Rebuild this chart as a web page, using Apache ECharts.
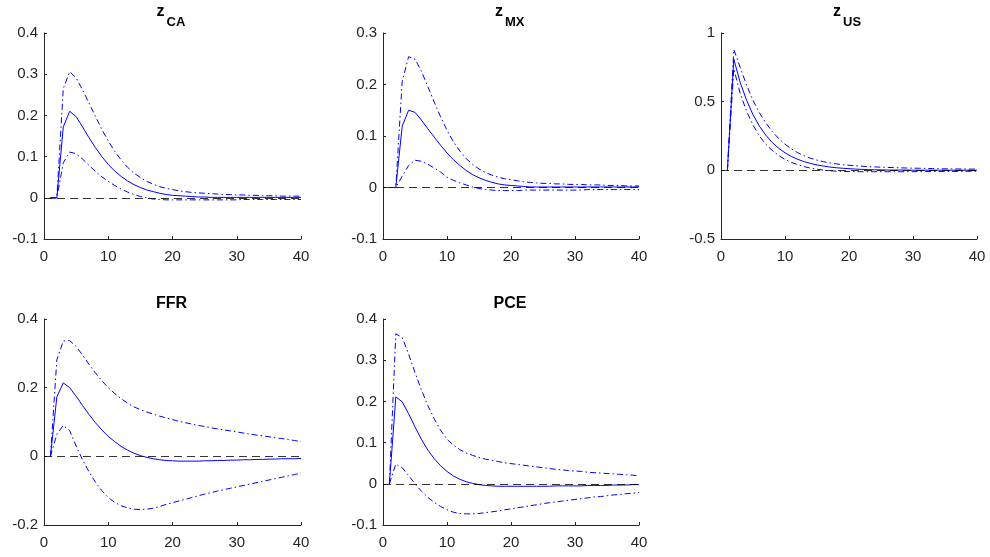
<!DOCTYPE html>
<html lang="en">
<head>
    <meta charset="UTF-8">
    <title>IRF</title>
    <style>
        * { margin: 0; padding: 0; }
        html, body { width: 100%; height: 100%; background: #fff; }
        #charts { width: 990px; height: 557px; }
    </style>
    <script src="https://cdn.jsdelivr.net/npm/echarts@6/dist/echarts.min.js"></script>
</head>
<body>
<div id="charts"></div>
<script>
    // horizon
    var horizon = [1,2,3,4,5,6,7,8,9,10,11,12,13,14,15,16,17,18,19,20,
        21,22,23,24,25,26,27,28,29,30,31,32,33,34,35,36,37,38,39,40];

    // z_CA
    var caMed = [0,0,0.172,0.210,0.197,0.172,0.146,0.122,0.100,0.081,0.065,0.052,0.041,0.032,0.025,0.019,0.015,0.011,0.008,0.006,
        0.005,0.004,0.003,0.002,0.002,0.001,0.001,0.001,0.001,0.001,0.001,0.001,0.001,0.001,0.001,0.001,0.001,0.001,0.001,0.001];
    var caUp = [0,0,0.265,0.306,0.291,0.262,0.230,0.198,0.166,0.138,0.113,0.092,0.074,0.060,0.049,0.040,0.033,0.027,0.023,0.020,
        0.017,0.015,0.013,0.012,0.011,0.010,0.009,0.008,0.008,0.007,0.007,0.006,0.006,0.005,0.005,0.005,0.004,0.004,0.004,0.004];
    var caLo = [0,0,0.085,0.111,0.107,0.094,0.079,0.064,0.051,0.040,0.030,0.021,0.014,0.008,0.003,0.000,-0.003,-0.004,-0.005,-0.005,
        -0.005,-0.005,-0.005,-0.005,-0.005,-0.005,-0.005,-0.005,-0.005,-0.005,-0.004,-0.004,-0.004,-0.004,-0.004,-0.004,-0.004,-0.004,-0.004,-0.004];

    // z_MX
    var mxMed = [0,0,0.119,0.150,0.146,0.131,0.114,0.098,0.082,0.067,0.054,0.043,0.033,0.025,0.019,0.014,0.010,0.007,0.005,0.004,
        0.003,0.002,0.001,0.001,0.001,0.001,0.001,0.001,0.001,0.001,0.001,0.001,0.001,0.001,0.001,0.001,0.001,0.001,0.001,0.001];
    var mxUp = [0,0,0.206,0.254,0.249,0.226,0.196,0.166,0.137,0.111,0.089,0.071,0.056,0.045,0.036,0.029,0.024,0.020,0.017,0.015,
        0.013,0.011,0.010,0.009,0.008,0.008,0.007,0.007,0.006,0.006,0.006,0.005,0.005,0.005,0.004,0.004,0.004,0.003,0.003,0.003];
    var mxLo = [0,0,0.022,0.043,0.053,0.051,0.045,0.038,0.030,0.020,0.014,0.009,0.005,0.001,-0.002,-0.004,-0.005,-0.006,-0.006,-0.006,
        -0.006,-0.005,-0.005,-0.005,-0.005,-0.005,-0.005,-0.005,-0.005,-0.005,-0.005,-0.004,-0.004,-0.004,-0.004,-0.004,-0.004,-0.004,-0.004,-0.004];

    // z_US
    var usMed = [0,0.81,0.64,0.51,0.405,0.322,0.256,0.203,0.161,0.128,0.101,0.080,0.063,0.050,0.039,0.031,0.024,0.019,0.015,0.012,
        0.009,0.007,0.005,0.004,0.003,0.002,0.002,0.002,0.002,0.001,0.001,0.001,0.001,0.001,0.001,0.001,0.001,0.001,0.001,0.001];
    var usUp = [0,0.88,0.75,0.62,0.51,0.42,0.345,0.283,0.232,0.190,0.156,0.128,0.106,0.088,0.074,0.063,0.054,0.047,0.041,0.037,
        0.033,0.030,0.027,0.025,0.023,0.021,0.020,0.018,0.017,0.016,0.015,0.014,0.013,0.012,0.011,0.011,0.010,0.010,0.009,0.009];
    var usLo = [0,0.74,0.56,0.43,0.33,0.25,0.19,0.145,0.108,0.080,0.058,0.041,0.027,0.016,0.008,0.002,-0.003,-0.006,-0.008,-0.009,
        -0.010,-0.010,-0.010,-0.010,-0.010,-0.010,-0.010,-0.010,-0.010,-0.010,-0.009,-0.009,-0.009,-0.008,-0.008,-0.008,-0.008,-0.007,-0.007,-0.007];

    // FFR
    var ffrMed = [0,0.173,0.214,0.200,0.175,0.148,0.122,0.098,0.077,0.058,0.043,0.029,0.018,0.009,0.002,-0.003,-0.007,-0.010,-0.012,-0.013,
        -0.014,-0.014,-0.014,-0.014,-0.013,-0.013,-0.012,-0.012,-0.011,-0.011,-0.010,-0.010,-0.009,-0.009,-0.008,-0.008,-0.007,-0.007,-0.007,-0.006];
    var ffrUp = [0,0.281,0.336,0.337,0.320,0.295,0.268,0.243,0.220,0.200,0.183,0.168,0.155,0.144,0.136,0.129,0.123,0.117,0.112,0.107,
        0.102,0.098,0.094,0.090,0.087,0.083,0.080,0.077,0.074,0.071,0.068,0.065,0.062,0.060,0.057,0.054,0.052,0.049,0.046,0.043];
    var ffrLo = [0,0.064,0.090,0.075,0.030,-0.010,-0.045,-0.075,-0.100,-0.120,-0.134,-0.144,-0.150,-0.154,-0.155,-0.154,-0.151,-0.146,-0.140,-0.135,
        -0.130,-0.125,-0.120,-0.115,-0.110,-0.106,-0.101,-0.097,-0.093,-0.089,-0.085,-0.081,-0.077,-0.073,-0.069,-0.065,-0.061,-0.057,-0.053,-0.049];

    // PCE
    var pceMed = [0,0.211,0.199,0.170,0.138,0.108,0.082,0.061,0.044,0.030,0.019,0.011,0.005,0.001,-0.002,-0.004,-0.005,-0.006,-0.006,-0.006,
        -0.006,-0.006,-0.006,-0.006,-0.006,-0.006,-0.005,-0.005,-0.005,-0.005,-0.005,-0.004,-0.004,-0.004,-0.004,-0.003,-0.003,-0.003,-0.002,-0.002];
    var pceUp = [0,0.364,0.355,0.315,0.270,0.228,0.190,0.158,0.130,0.108,0.094,0.083,0.075,0.069,0.064,0.060,0.057,0.054,0.051,0.049,
        0.047,0.045,0.043,0.041,0.039,0.037,0.035,0.034,0.032,0.031,0.030,0.028,0.027,0.026,0.025,0.024,0.023,0.022,0.021,0.019];
    var pceLo = [0,0.048,0.039,0.020,0.000,-0.018,-0.033,-0.045,-0.055,-0.063,-0.069,-0.072,-0.073,-0.073,-0.072,-0.070,-0.068,-0.066,-0.063,-0.061,
        -0.058,-0.056,-0.053,-0.051,-0.048,-0.046,-0.044,-0.042,-0.040,-0.038,-0.036,-0.034,-0.032,-0.031,-0.029,-0.027,-0.026,-0.024,-0.023,-0.021];

    // titles: main text + subscript ('' = none)
    var panels = [
        {name: 'z', sub: 'CA', med: caMed, up: caUp, lo: caLo, min: -0.1, max: 0.4, step: 0.1},
        {name: 'z', sub: 'MX', med: mxMed, up: mxUp, lo: mxLo, min: -0.1, max: 0.3, step: 0.1},
        {name: 'z', sub: 'US', med: usMed, up: usUp, lo: usLo, min: -0.5, max: 1, step: 0.5},
        {name: 'FFR', sub: '', med: ffrMed, up: ffrUp, lo: ffrLo, min: -0.2, max: 0.4, step: 0.2},
        {name: 'PCE', sub: '', med: pceMed, up: pceUp, lo: pceLo, min: -0.1, max: 0.4, step: 0.1}
    ];

    // grid boxes (px)
    var boxes = [
        {left: 44, top: 33, width: 257, height: 206},
        {left: 383, top: 33, width: 256, height: 206},
        {left: 721, top: 33, width: 256, height: 206},
        {left: 44, top: 319, width: 257, height: 206},
        {left: 383, top: 319, width: 256, height: 206}
    ];

    var font = 'Liberation Sans, Arial, sans-serif';
    var axisCol = '#262626';
    var blue = '#0000ff';

    function pairs(arr) {
        return arr.map(function (v, i) { return [horizon[i], v]; });
    }

    var option = {
        animation: false,
        backgroundColor: '#fff',
        title: [],
        grid: [],
        xAxis: [],
        yAxis: [],
        series: []
    };

    panels.forEach(function (p, k) {
        var b = boxes[k];
        var cx = b.left + b.width / 2;
        option.grid.push({left: b.left, top: b.top, width: b.width, height: b.height, containLabel: false});
        if (p.sub) {
            option.title.push({
                text: p.name, left: cx - 16, top: b.top - 29, padding: 0,
                textStyle: {fontFamily: font, fontSize: 16, fontWeight: 'bold', color: '#000', lineHeight: 16}
            });
            option.title.push({
                text: p.sub, left: cx - 6, top: b.top - 17, padding: 0,
                textStyle: {fontFamily: font, fontSize: 13, fontWeight: 'bold', color: '#000', lineHeight: 13}
            });
        } else {
            option.title.push({
                text: p.name, left: cx - 1, textAlign: 'center', top: b.top - 23, padding: 0,
                textStyle: {fontFamily: font, fontSize: 16, fontWeight: 'bold', color: '#000', lineHeight: 16}
            });
        }
        option.xAxis.push({
            type: 'value', gridIndex: k, min: 0, max: 40, interval: 10,
            axisLine: {show: true, onZero: false, lineStyle: {color: axisCol, width: 1}},
            axisTick: {show: true, inside: true, length: 3, lineStyle: {color: axisCol}},
            axisLabel: {color: axisCol, fontFamily: font, fontSize: 15, margin: 10},
            splitLine: {show: false}
        });
        option.yAxis.push({
            type: 'value', gridIndex: k, min: p.min, max: p.max, interval: p.step,
            axisLine: {show: true, onZero: false, lineStyle: {color: axisCol, width: 1}},
            axisTick: {show: true, inside: true, length: 3, lineStyle: {color: axisCol}},
            axisLabel: {color: axisCol, fontFamily: font, fontSize: 15, margin: 6},
            splitLine: {show: false}
        });
        option.series.push({
            type: 'line', xAxisIndex: k, yAxisIndex: k, data: pairs(p.med),
            showSymbol: false, symbol: 'none', silent: true,
            lineStyle: {color: blue, width: 1},
            markLine: {
                silent: true, symbol: 'none', label: {show: false},
                lineStyle: {color: '#000', type: [8, 5], width: 0.8},
                data: [{yAxis: 0}]
            }
        });
        option.series.push({
            type: 'line', xAxisIndex: k, yAxisIndex: k, data: pairs(p.up),
            showSymbol: false, symbol: 'none', silent: true,
            lineStyle: {color: blue, width: 1, type: [6, 3, 1.5, 3]}
        });
        option.series.push({
            type: 'line', xAxisIndex: k, yAxisIndex: k, data: pairs(p.lo),
            showSymbol: false, symbol: 'none', silent: true,
            lineStyle: {color: blue, width: 1, type: [6, 3, 1.5, 3]}
        });
    });

    var myChart = echarts.init(document.getElementById('charts'));
    myChart.setOption(option);
</script>
</body>
</html>
